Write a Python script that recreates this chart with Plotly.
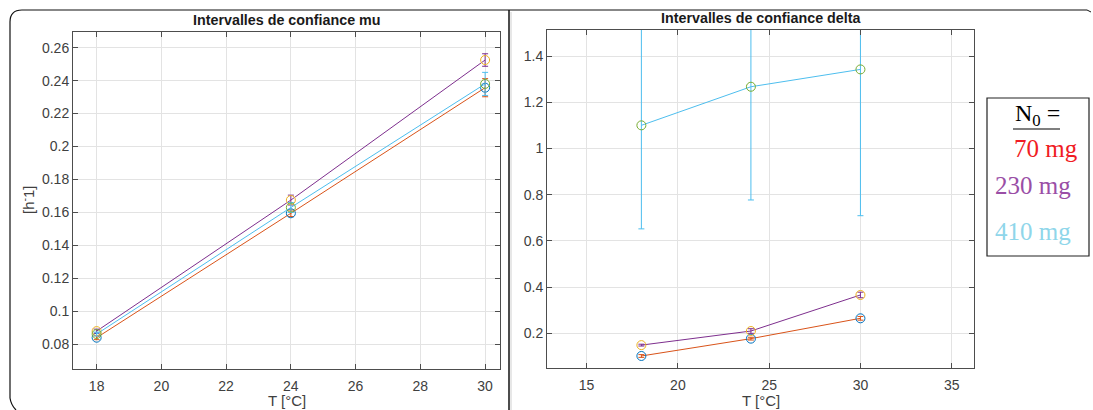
import plotly.graph_objects as go

W, H = 1093, 410

# Temperatures (°C)
temps = [18, 24, 30]

# Growth rate mu [h^-1] with half-widths of the confidence intervals
mu_70 = [0.0840, 0.1595, 0.2357]
mu_70_err = [0.0012, 0.0020, 0.0055]
mu_230 = [0.0880, 0.1675, 0.2525]
mu_230_err = [0.0012, 0.0030, 0.0038]
mu_410 = [0.0862, 0.1630, 0.2380]
mu_410_err = [0.0012, 0.0030, 0.0070]

# Parameter delta with half-widths of the confidence intervals
delta_70 = [0.102, 0.177, 0.265]
delta_70_err = [0.006, 0.006, 0.008]
delta_230 = [0.149, 0.210, 0.366]
delta_230_err = [0.004, 0.010, 0.012]
delta_410 = [1.100, 1.267, 1.342]
delta_410_err = [0.448, 0.490, 0.633]

mu_ticks = [0.08, 0.10, 0.12, 0.14, 0.16, 0.18, 0.20, 0.22, 0.24, 0.26]
mu_ticktext = ["0.08", "0.1", "0.12", "0.14", "0.16", "0.18", "0.2", "0.22", "0.24", "0.26"]
mu_xticks = [18, 20, 22, 24, 26, 28, 30]
delta_ticks = [0.2, 0.4, 0.6, 0.8, 1.0, 1.2, 1.4]
delta_ticktext = ["0.2", "0.4", "0.6", "0.8", "1", "1.2", "1.4"]
delta_xticks = [15, 20, 25, 30, 35]

legend_labels = ["70 mg", "230 mg", "410 mg"]

# MATLAB default palette
C_BLUE = "#0072BD"
C_ORANGE = "#D95319"
C_YELLOW = "#EDB120"
C_PURPLE = "#7E2F8E"
C_GREEN = "#77AC30"
C_CYAN = "#4DBEEE"


def px(x):
    return x / W


def py(y):
    return 1 - y / H


fig = go.Figure()


def add_series(x, y, err, line_color, marker_color, xa, ya):
    fig.add_trace(go.Scatter(
        x=x, y=y, mode="lines", xaxis=xa, yaxis=ya,
        line=dict(color=line_color, width=1),
        error_y=dict(type="data", array=err, visible=True,
                     color=line_color, thickness=1, width=3),
        showlegend=False, hoverinfo="skip"))
    fig.add_trace(go.Scatter(
        x=x, y=y, mode="markers", xaxis=xa, yaxis=ya,
        marker=dict(symbol="circle-open", size=9, color=marker_color,
                    line=dict(width=1, color=marker_color)),
        showlegend=False, hoverinfo="skip"))


# left panel: mu
add_series(temps, mu_70, mu_70_err, C_ORANGE, C_BLUE, "x", "y")
add_series(temps, mu_230, mu_230_err, C_PURPLE, C_YELLOW, "x", "y")
add_series(temps, mu_410, mu_410_err, C_CYAN, C_GREEN, "x", "y")

# right panel: delta
add_series(temps, delta_70, delta_70_err, C_ORANGE, C_BLUE, "x2", "y2")
add_series(temps, delta_230, delta_230_err, C_PURPLE, C_YELLOW, "x2", "y2")
add_series(temps, delta_410, delta_410_err, C_CYAN, C_GREEN, "x2", "y2")

tick_font = dict(family="Liberation Sans, Arial, sans-serif", size=14, color="#404040")
axis_common = dict(
    showline=True, linecolor="#4d4d4d", linewidth=1, mirror="ticks",
    ticks="inside", ticklen=5, tickcolor="#4d4d4d", tickwidth=1,
    showgrid=True, gridcolor="#e3e3e3", gridwidth=1, zeroline=False,
    tickfont=tick_font,
)

fig.update_layout(
    width=W, height=H,
    margin=dict(l=0, r=0, t=0, b=0),
    paper_bgcolor="white", plot_bgcolor="white",
    xaxis=dict(domain=[px(73), px(500)], range=[17.27, 30.46],
               tickvals=mu_xticks, anchor="y", ticklabelstandoff=4, **axis_common),
    yaxis=dict(domain=[py(369), py(32)], range=[0.065, 0.2695],
               tickvals=mu_ticks, ticktext=mu_ticktext, anchor="x", **axis_common),
    xaxis2=dict(domain=[px(547), px(974)], range=[12.83, 36.22],
                tickvals=delta_xticks, anchor="y2", ticklabelstandoff=4, **axis_common),
    yaxis2=dict(domain=[py(368), py(30)], range=[0.05, 1.5125],
                tickvals=delta_ticks, ticktext=delta_ticktext, anchor="x2", **axis_common),
)

title_font = dict(family="Liberation Sans, Arial, sans-serif", size=14.3, color="#1a1a1a")
label_font = dict(family="Liberation Sans, Arial, sans-serif", size=15, color="#404040")
serif = "Liberation Serif, Times New Roman, serif"

annotations = [
    dict(text="<b>Intervalles de confiance mu</b>", x=px(286.5), y=py(20),
         font=title_font),
    dict(text="<b>Intervalles de confiance delta</b>", x=px(760.5), y=py(18),
         font=title_font),
    dict(text="T [°C]", x=px(286.5), y=py(400), font=label_font),
    dict(text="T [°C]", x=px(760.5), y=py(400), font=label_font),
    dict(text="[h<sup>-</sup>1]", x=px(27), y=py(200), textangle=-90, font=label_font),
    dict(text="N<sub>0</sub> =", x=px(1037), y=py(115),
         font=dict(family=serif, size=24, color="black")),
    dict(text=legend_labels[0], x=px(1080), y=py(148), xanchor="right",
         font=dict(family=serif, size=25, color="#f01c24")),
    dict(text=legend_labels[1], x=px(993), y=py(186), xanchor="left",
         font=dict(family=serif, size=25, color="#9a4ea6")),
    dict(text=legend_labels[2], x=px(993), y=py(232), xanchor="left",
         font=dict(family=serif, size=25, color="#8fd6ea")),
]
for a in annotations:
    a.setdefault("xanchor", "center")
    fig.add_annotation(xref="paper", yref="paper", yanchor="middle",
                       showarrow=False, **a)


shapes = [
    # legend frame
    dict(type="rect", x0=px(987), x1=px(1089), y0=py(256), y1=py(98),
         line=dict(color="#222222", width=1.2)),
    # underline of the legend heading
    dict(type="line", x0=px(1013), x1=px(1060), y0=py(129), y1=py(129),
         line=dict(color="#555555", width=1.5)),
    # window frame with rounded corner and divider between panels
    dict(type="path",
         path=f"M {px(10)},{py(398)} L {px(10)},{py(22)} Q {px(10)},{py(10)} {px(22)},{py(10)} L {px(1087)},{py(10)}",
         line=dict(color="#111111", width=1.2)),
    dict(type="path",
         path=f"M {px(10)},{py(398)} Q {px(11)},{py(405)} {px(16)},{py(410)}",
         line=dict(color="#111111", width=1.2)),
    dict(type="line", x0=px(1087), x1=px(1091), y0=py(10), y1=py(12),
         line=dict(color="#111111", width=1)),
    dict(type="line", x0=px(509), x1=px(509), y0=py(10), y1=py(410),
         line=dict(color="#111111", width=1.5)),
    dict(type="line", x0=px(511), x1=px(511), y0=py(12), y1=py(410),
         line=dict(color="#cfcfcf", width=1)),
]
for s in shapes:
    fig.add_shape(xref="paper", yref="paper", **s)

fig.write_html("out.html")
